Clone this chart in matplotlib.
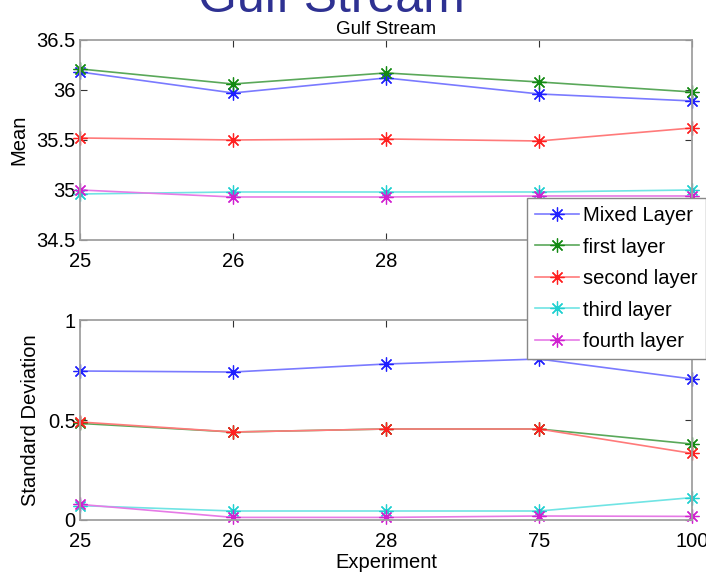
import matplotlib

matplotlib.use("Agg")
import matplotlib.pyplot as plt

plt.rcParams["font.family"] = ["Liberation Sans", "DejaVu Sans"]

experiments = ["25", "26", "28", "75", "100"]
layers = ["Mixed Layer", "first layer", "second layer", "third layer", "fourth layer"]

mean_mixed = [36.18, 35.97, 36.12, 35.96, 35.89]
mean_first = [36.21, 36.06, 36.17, 36.08, 35.98]
mean_second = [35.52, 35.50, 35.51, 35.49, 35.62]
mean_third = [34.96, 34.98, 34.98, 34.98, 35.00]
mean_fourth = [35.00, 34.93, 34.93, 34.94, 34.94]

std_mixed = [0.745, 0.740, 0.780, 0.805, 0.705]
std_first = [0.483, 0.440, 0.455, 0.455, 0.380]
std_second = [0.490, 0.440, 0.455, 0.455, 0.333]
std_third = [0.072, 0.045, 0.045, 0.045, 0.112]
std_fourth = [0.078, 0.013, 0.013, 0.020, 0.018]

colors = ["#7a7aff", "#5aa85a", "#ff7a7a", "#70e4e4", "#e67ae6"]
marker_colors = ["#2020ff", "#138a13", "#ff2020", "#20d0d0", "#d020d0"]
asterisk = (8, 2, 0)  # matlab-style '*'

fig = plt.figure(figsize=(7.06, 5.79), dpi=100)
ax_top = fig.add_axes([0.1133, 0.5855, 0.867, 0.3455])
ax_bot = fig.add_axes([0.1133, 0.1019, 0.867, 0.3454])

x = range(len(experiments))
mean_series = [mean_mixed, mean_first, mean_second, mean_third, mean_fourth]
std_series = [std_mixed, std_first, std_second, std_third, std_fourth]

handles = []
for vals, name, c, mc in zip(mean_series, layers, colors, marker_colors):
    h, = ax_top.plot(x, vals, "-", marker=asterisk, color=c, mec=mc, mfc=mc,
                     lw=1.2, ms=10, mew=0.9, label=name, clip_on=False)
    handles.append(h)
for vals, c, mc in zip(std_series, colors, marker_colors):
    ax_bot.plot(x, vals, "-", marker=asterisk, color=c, mec=mc, mfc=mc,
                lw=1.2, ms=10, mew=0.9, clip_on=False)

ax_top.set_ylim(34.5, 36.5)
ax_top.set_yticks([34.5, 35, 35.5, 36, 36.5])
ax_top.set_yticklabels(["34.5", "35", "35.5", "36", "36.5"])
ax_top.set_ylabel("Mean", fontsize=14.5, labelpad=6)
ax_top.set_title("Gulf Stream", fontsize=13.5, pad=4)

ax_bot.set_ylim(0, 1)
ax_bot.set_yticks([0, 0.5, 1])
ax_bot.set_yticklabels(["0", "0.5", "1"])
ax_bot.set_ylabel("Standard Deviation", fontsize=14.5, labelpad=6)
ax_bot.set_xlabel("Experiment", fontsize=14.5, labelpad=1)

for ax in (ax_top, ax_bot):
    ax.set_xlim(0, len(experiments) - 1)
    ax.set_xticks(list(x))
    ax.set_xticklabels(experiments)
    ax.tick_params(direction="in", top=True, right=True, labelsize=14.5,
                   length=5, width=0.8, color="#333333")
    ax.tick_params(axis="x", pad=9)
    ax.tick_params(axis="y", pad=3)
    for s in ax.spines.values():
        s.set_color("#a0a0a0")
        s.set_linewidth(1.3)

# legend sits over both panels, like the matlab original
leg = fig.legend(handles=handles, loc="upper left",
                 bbox_to_anchor=(527 / 706, 1 - 198 / 579),
                 fontsize=14.5, frameon=True, fancybox=False, framealpha=1,
                 edgecolor="#888888", labelspacing=0.62, handlelength=2.2,
                 handletextpad=0.2, borderpad=0.4, borderaxespad=0)
leg.get_frame().set_linewidth(1.0)

fig.text(0.469, 1 - 12 / 579, "Gulf Stream", fontsize=36, color="#2e3192",
         ha="center", va="baseline")

fig.savefig("out.png", dpi=100)
